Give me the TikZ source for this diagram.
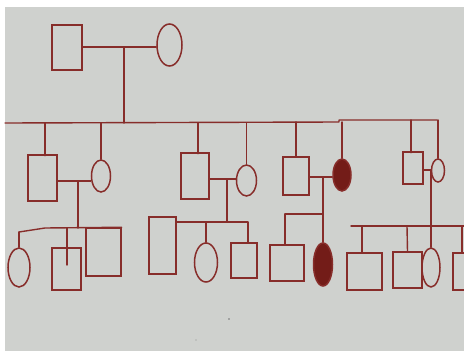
\documentclass[tikz,border=0pt]{standalone}
\usetikzlibrary{shapes.geometric}
\definecolor{paper}{RGB}{207,209,206}
\definecolor{ink}{RGB}{135,45,42}
\definecolor{fillink}{RGB}{115,28,24}
\tikzset{
  male/.style={draw=ink, line width=1.5pt, rectangle, inner sep=0pt},
  female/.style={draw=ink, line width=1.5pt, ellipse, inner sep=0pt},
  affected/.style={fill=fillink},
  ln/.style={draw=ink, line width=1.4pt, line cap=round, line join=round}
}
\begin{document}
\begin{tikzpicture}[x=1pt,y=-1pt]
\useasboundingbox (0,0) rectangle (464,351);
\clip (0,0) rectangle (464,351);
\fill[white] (0,0) rectangle (464,351);
\fill[paper] (5,7) rectangle (464,351);
\fill[black!55] (229,319) circle (0.9);
\fill[black!45] (196,340) circle (0.7);

% Generation I
\node[male, minimum width=30, minimum height=45] (g1m) at (67,47.5) {};
\node[female, minimum width=25, minimum height=42] (g1f) at (169.5,45) {};
\coordinate (c1) at (124,47);
\coordinate (s2L) at (5,123);
\coordinate (s2M) at (339,122);
\coordinate (s2R) at (437,120);
\draw[ln] (g1m.east |- c1) -- (c1) -- (g1f.west |- c1);
\draw[ln] (c1) -- (124,123);
\draw[ln] (s2L) -- (s2M) -- (339,120) -- (s2R);

% Generation II
\node[male, minimum width=29, minimum height=46] (a1) at (42.5,178) {};
\node[female, minimum width=19, minimum height=32] (a2) at (101,176) {};
\node[male, minimum width=28, minimum height=46] (b1) at (195,176) {};
\node[female, minimum width=20, minimum height=31] (b2) at (246.5,180.5) {};
\node[male, minimum width=26, minimum height=38] (c1m) at (296,176) {};
\node[female, affected, minimum width=18, minimum height=32] (c2) at (342,175) {};
\node[male, minimum width=20, minimum height=32] (d1) at (413,168) {};
\node[female, minimum width=13, minimum height=23] (d2) at (438,170.5) {};

\draw[ln] (45,123) -- (45,155.7);
\draw[ln] (a2.north |- s2L) -- (a2.north);
\draw[ln] (198,123) -- (198,153.7);
\draw[ln] (b2.north |- s2L) -- (b2.north);
\draw[ln] (c1m.north |- s2M) -- (c1m.north);
\draw[ln] (c2.north |- s2M) -- (c2.north);
\draw[ln] (411,120) -- (411,152.7);
\draw[ln] (d2.north |- s2R) -- (d2.north);

% Family 1
\coordinate (m1) at (78,181);
\draw[ln] (a1.east |- m1) -- (m1) -- (a2.west |- m1);
\coordinate (s3a) at (78,228);
\draw[ln] (m1) -- (s3a);
\node[female, minimum width=22, minimum height=39] (e1) at (19,267.5) {};
\node[male, minimum width=29, minimum height=42] (e2) at (66.5,269) {};
\node[male, minimum width=35, minimum height=48] (e3) at (103.5,252) {};
\draw[ln] (19,232) -- (45,228) -- (e3.north east);
\draw[ln] (19,232) -- (e1.north);
\draw[ln] (67,228) -- (67,265);

% Family 2
\coordinate (m2) at (227,179);
\draw[ln] (b1.east |- m2) -- (m2) -- (b2.west |- m2);
\coordinate (s3b) at (227,222);
\draw[ln] (m2) -- (s3b);
\node[male, minimum width=27, minimum height=57] (f1) at (162.5,245.5) {};
\node[female, minimum width=23, minimum height=39] (f2) at (206,262.5) {};
\node[male, minimum width=26, minimum height=35] (f3) at (244,260.5) {};
\draw[ln] (f1.east |- s3b) -- (248,222) -- (f3.north -| 248,0);
\draw[ln] (f2.north |- s3b) -- (f2.north);

% Family 3
\coordinate (m3) at (323,177);
\draw[ln] (c1m.east |- m3) -- (m3) -- (c2.west |- m3);
\coordinate (s3c) at (323,214);
\draw[ln] (m3) -- (s3c);
\node[male, minimum width=34, minimum height=36] (h1) at (287,263) {};
\node[female, affected, minimum width=19, minimum height=43] (h2) at (323,264.5) {};
\draw[ln] (285,214) -- (s3c) -- (h2.north);
\draw[ln] (285,214) -- (285,245);

% Family 4
\coordinate (m4) at (431,170);
\draw[ln] (d1.east |- m4) -- (m4) -- (d2.west |- m4);
\coordinate (s3d) at (431,226);
\draw[ln] (m4) -- (s3d);
\node[male, minimum width=35, minimum height=37] (k1) at (364.5,271.5) {};
\node[male, minimum width=29, minimum height=36] (k2) at (407.5,270) {};
\node[female, minimum width=18, minimum height=39] (k3) at (431,267.5) {};
\node[male, minimum width=22, minimum height=37] (k4) at (464,271.5) {};
\draw[ln] (351,226) -- (470,226);
\draw[ln] (362,226) -- (362,253);
\draw[ln] (407,226) -- (k2.north);
\draw[ln] (s3d) -- (k3.north);
\draw[ln] (462,226) -- (462,253);
\end{tikzpicture}
\end{document}
